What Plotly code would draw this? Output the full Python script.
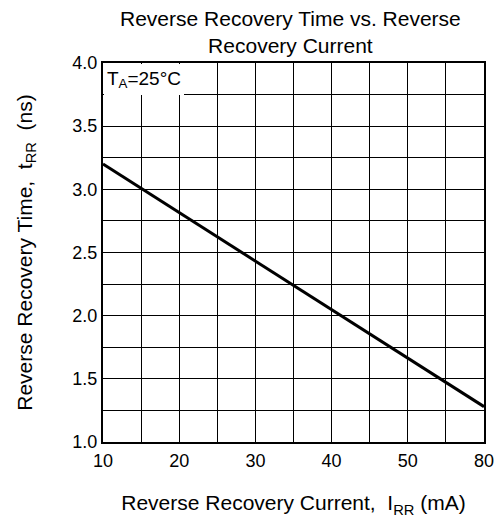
import numpy as np
import plotly.graph_objects as go

# ---- data ----
current_mA = [10, 80]            # reverse recovery current (mA)
trr_ns = [3.2, 1.28]             # reverse recovery time (ns)

x_tick_labels = ["10", "20", "30", "40", "50", "80"]
x_tick_values = [10, 20, 30, 40, 50, 80]
y_tick_values = [1.0, 1.5, 2.0, 2.5, 3.0, 3.5, 4.0]
y_tick_labels = ["1.0", "1.5", "2.0", "2.5", "3.0", "3.5", "4.0"]

# the printed axis is not linear: the last division spans 50..80 -> map onto axis slots
x_slots = [10, 20, 30, 40, 50, 60]
x_pos = np.interp(current_mA, x_tick_values, x_slots)

FONT = "Liberation Sans, Arial, sans-serif"

fig = go.Figure()
fig.add_trace(go.Scatter(
    x=x_pos, y=trr_ns, mode="lines",
    line=dict(color="black", width=3),
    showlegend=False, hoverinfo="skip",
))

fig.update_layout(
    width=500, height=525,
    margin=dict(l=103, r=16, t=63, b=83, autoexpand=False),
    paper_bgcolor="white", plot_bgcolor="white",
    font=dict(family=FONT, color="black", size=18),
)

fig.update_xaxes(
    range=[10, 60], automargin=False,
    tickmode="array", tickvals=x_slots, ticktext=x_tick_labels,
    showgrid=True, gridcolor="black", gridwidth=1,
    minor=dict(dtick=5, tick0=10, showgrid=True, gridcolor="black", gridwidth=1),
    showline=True, linecolor="black", linewidth=2, mirror=True,
    ticks="outside", ticklen=0, ticklabelstandoff=1,
    tickfont=dict(family=FONT, size=18),
    zeroline=False,
    title=dict(text="Reverse Recovery Current,  I<sub>RR</sub> (mA)",
               font=dict(family=FONT, size=21), standoff=26),
)
fig.update_yaxes(
    range=[1, 4], automargin=False,
    tickmode="array", tickvals=y_tick_values, ticktext=y_tick_labels,
    showgrid=True, gridcolor="black", gridwidth=1,
    minor=dict(dtick=0.25, tick0=1, showgrid=True, gridcolor="black", gridwidth=1),
    showline=True, linecolor="black", linewidth=2, mirror=True,
    ticks="outside", ticklen=0, ticklabelstandoff=0,
    tickfont=dict(family=FONT, size=18),
    zeroline=False,
    title=dict(text="Reverse Recovery Time,  t<sub>RR</sub>  (ns)",
               font=dict(family=FONT, size=21), standoff=34),
)

# chart title
fig.add_annotation(
    text="Reverse Recovery Time vs. Reverse<br>Recovery Current",
    xref="paper", yref="paper", x=0.5, y=1,
    xanchor="center", yanchor="middle", yshift=31, xshift=-3,
    showarrow=False, align="center",
    font=dict(family=FONT, size=21, color="black"),
)

fig.add_annotation(
    text="T<sub>A</sub>=25°C",
    xref="paper", yref="paper", x=0, y=1,
    xanchor="left", yanchor="top",
    xshift=1, yshift=-1,
    showarrow=False, align="center",
    bgcolor="white", borderwidth=0, borderpad=0,
    width=80, height=31,
    font=dict(family=FONT, size=19, color="black"),
)

fig.write_html("out.html", config={"displayModeBar": False},
               post_script="document.body.style.margin='0';")
